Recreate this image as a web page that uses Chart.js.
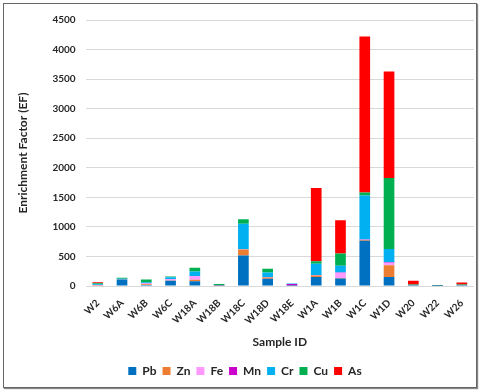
<!DOCTYPE html>
<html>
<head>
<meta charset="utf-8">
<script src="https://cdn.jsdelivr.net/npm/chart.js@4.4.0/dist/chart.umd.min.js"></script>
<style>
  html, body { margin: 0; padding: 0; background: #fff; }
  .frame {
    position: absolute; left: 3px; top: 3px;
    width: 472px; height: 383px;
    border: 1px solid #666;
    box-shadow: 1px 1px 1px #888;
    background: #fff;
  }
  .frame canvas { display: block; }
</style>
</head>
<body>
<div class="frame"><canvas id="myChart" width="472" height="383"></canvas></div>
<script>
// categories
const samples = ["W2", "W6A", "W6B", "W6C", "W18A", "W18B", "W18C", "W18D", "W18E",
                 "W1A", "W1B", "W1C", "W1D", "W20", "W22", "W26"];

// enrichment factor per metal (stacked)
const pb = [10, 110, 20, 90, 84, 8, 517, 124, 3, 152, 129, 765, 152, 5, 3, 5];
const zn = [3, 3, 10, 5, 22, 2, 101, 22, 2, 28, 8, 15, 200, 2, 1, 2];
const fe = [3, 2, 12, 20, 62, 2, 5, 5, 12, 5, 88, 5, 45, 2, 1, 2];
const mn = [2, 1, 5, 5, 3, 1, 2, 2, 18, 2, 3, 2, 5, 1, 0, 1];
const cr = [12, 8, 20, 28, 76, 6, 431, 79, 8, 189, 115, 747, 227, 5, 4, 4];
const cu = [17, 16, 45, 15, 62, 15, 73, 62, 3, 45, 208, 50, 1197, 10, 8, 12];
const as = [20, 0, 0, 0, 0, 0, 0, 0, 0, 1236, 561, 2635, 1803, 65, 0, 36];

// y ticks
const yTicks = [0, 500, 1000, 1500, 2000, 2500, 3000, 3500, 4000, 4500];

const font = "Lato, 'Open Sans', sans-serif";
const textColor = "#262626";

function series(label, data, color) {
    return {
        label: label,
        data: data,
        backgroundColor: color,
        borderWidth: 0,
        barPercentage: 0.44,
        categoryPercentage: 1
    };
}

const ctx = document.getElementById("myChart").getContext("2d");
new Chart(ctx, {
    type: "bar",
    data: {
        labels: samples,
        datasets: [
            series("Pb", pb, "#0070C0"),
            series("Zn", zn, "#ED7D31"),
            series("Fe", fe, "#FF99FF"),
            series("Mn", mn, "#CC00CC"),
            series("Cr", cr, "#00B0F0"),
            series("Cu", cu, "#00B050"),
            series("As", as, "#FF0000")
        ]
    },
    options: {
        responsive: false,
        animation: false,
        layout: { padding: { left: 12, right: 2, top: 11, bottom: 0 } },
        plugins: {
            tooltip: { enabled: false },
            legend: {
                position: "bottom",
                labels: {
                    color: textColor,
                    boxWidth: 8,
                    boxHeight: 8,
                    padding: 6,
                    font: { family: font, size: 12, weight: "bold" }
                }
            }
        },
        scales: {
            x: {
                stacked: true,
                grid: { display: false },
                border: { display: false },
                ticks: {
                    color: textColor,
                    minRotation: 45,
                    maxRotation: 45,
                    padding: 3,
                    font: { family: font, size: 10, weight: "bold" }
                },
                title: {
                    display: true,
                    text: "Sample ID",
                    color: textColor,
                    padding: { top: 5, bottom: 10 },
                    font: { family: font, size: 12, weight: "bold" }
                }
            },
            y: {
                stacked: true,
                min: 0,
                max: 4500,
                afterBuildTicks: axis => {
                    axis.ticks = yTicks.map(v => ({ value: v }));
                },
                grid: { color: "#d9d9d9", drawTicks: false },
                border: { display: false },
                ticks: {
                    color: textColor,
                    padding: 10,
                    callback: v => String(v),
                    font: { family: font, size: 10, weight: "bold" }
                },
                title: {
                    display: true,
                    text: "Enrichment Factor (EF)",
                    color: textColor,
                    padding: { top: 0, bottom: 12 },
                    font: { family: font, size: 12, weight: "bold" }
                }
            }
        }
    }
});
</script>
</body>
</html>
